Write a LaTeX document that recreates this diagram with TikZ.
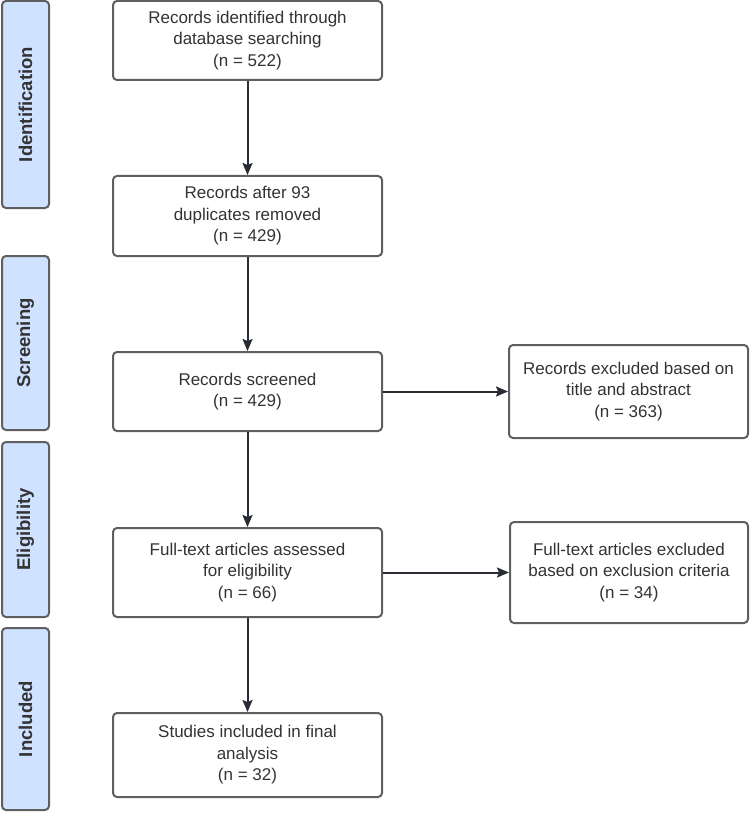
\documentclass[tikz,border=0pt]{standalone}
\usepackage{fontspec}
\setmainfont{Liberation Sans}
\usetikzlibrary{arrows.meta}
\definecolor{boxline}{RGB}{95,95,95}
\definecolor{arrowcol}{RGB}{40,44,52}
\definecolor{txtcol}{RGB}{51,51,51}
\definecolor{sidefill}{RGB}{207,226,255}
\tikzset{
  mainbox/.style={draw=boxline, line width=2pt, rounded corners=4pt, fill=white,
    inner sep=0pt, align=center, text=txtcol,
    font=\fontsize{17}{21.5}\selectfont},
  sidebox/.style={draw=boxline, line width=2pt, rounded corners=4pt, fill=sidefill,
    inner sep=0pt, text=txtcol, rotate=90,
    font=\fontsize{18.5}{22}\selectfont\bfseries},
  flow/.style={draw=arrowcol, line width=2pt,
    -{Stealth[length=12pt,width=10pt,inset=2pt]}}
}
\begin{document}
\begin{tikzpicture}[x=1pt,y=-1pt]
\useasboundingbox (0,0) rectangle (750,813);

% side labels
\node[sidebox, minimum width=207pt, minimum height=47pt] (ident) at (25.5,104.5) {Identification};
\node[sidebox, minimum width=174pt, minimum height=47pt] (screen) at (25.5,343) {Screening};
\node[sidebox, minimum width=175pt, minimum height=47pt] (elig) at (25.5,529.5) {Eligibility};
\node[sidebox, minimum width=182pt, minimum height=47pt] (incl) at (25.5,719) {Included};

% main column
\node[mainbox, minimum width=269pt, minimum height=79pt] (b1) at (247.5,40.5)
  {Records identified through\\database searching\\(n = 522)};
\node[mainbox, minimum width=269pt, minimum height=80pt] (b2) at (247.5,216)
  {Records after 93\\duplicates removed\\(n = 429)};
\node[mainbox, minimum width=269pt, minimum height=79pt] (b3) at (247.5,391.5)
  {Records screened\\(n = 429)};
\node[mainbox, minimum width=269pt, minimum height=89pt] (b4) at (247.5,572.5)
  {Full-text articles assessed\\for eligibility\\(n = 66)};
\node[mainbox, minimum width=269pt, minimum height=84pt] (b5) at (247.5,755)
  {Studies included in final\\analysis\\(n = 32)};

% right column
\node[mainbox, minimum width=239pt, minimum height=93pt] (r1) at (628.5,391.5)
  {Records excluded based on\\title and abstract\\(n = 363)};
\node[mainbox, minimum width=238pt, minimum height=101pt] (r2) at (629,572.5)
  {Full-text articles excluded\\based on exclusion criteria\\(n = 34)};

% connectors
\draw[flow] (b1.south) -- (b2.north);
\draw[flow] (b2.south) -- (b3.north);
\draw[flow] (b3.south) -- (b4.north);
\draw[flow] (b4.south) -- (b5.north);
\draw[flow] (b3.east) -- (r1.west);
\draw[flow] (b4.east) -- (r2.west);
\end{tikzpicture}
\end{document}
